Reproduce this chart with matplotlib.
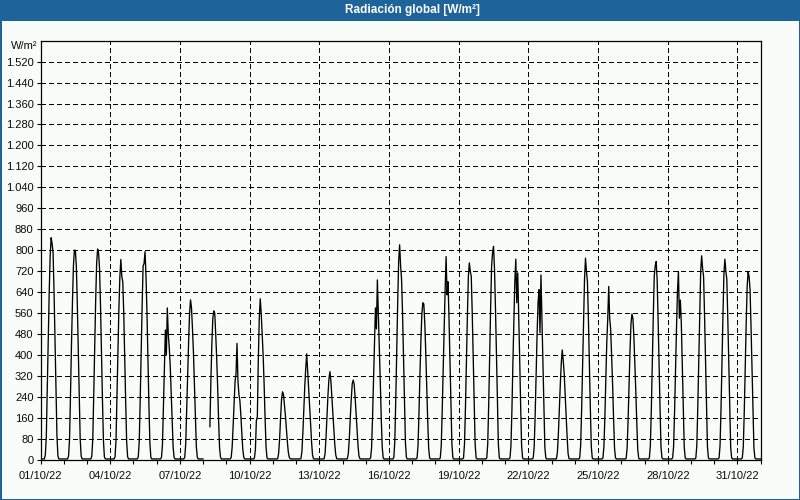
import numpy as np
import matplotlib
matplotlib.use("Agg")
import matplotlib.pyplot as plt
from matplotlib.ticker import MultipleLocator, FixedLocator, FuncFormatter
from matplotlib.patches import Rectangle

# ---------------- data ----------------
title = "Radiación global [W/m²]"
unit_label = "W/m²"
x_tick_labels = ["01/10/22", "04/10/22", "07/10/22", "10/10/22", "13/10/22", "16/10/22",
                 "19/10/22", "22/10/22", "25/10/22", "28/10/22", "31/10/22"]
x_tick_days = [0, 3, 6, 9, 12, 15, 18, 21, 24, 27, 30]
y_ticks = list(range(0, 1600, 80))

night_level = 4
hours = [5, 6, 7, 8, 9, 10, 11, 12, 13, 14, 15, 16, 17, 18]   # hourly readings per day
nan = float("nan")
oct01 = [20, 90, 270, 470, 640, 780, 848, 825, 790, 640, 450, 260, 90, 15]
oct02 = [15, 80, 250, 440, 600, 740, 800, 800, 740, 600, 420, 240, 80, 15]
oct03 = [15, 80, 250, 440, 610, 750, 805, 790, 730, 590, 410, 230, 75, 12]
oct04 = [12, 75, 240, 420, 580, 700, 765, 700, 680, 560, 390, 220, 70, 12]
oct05 = [12, 70, 230, 420, 590, 740, 750, 795, 700, 560, 380, 210, 65, 10]
oct06 = [10, 60, 200, 340, 496, 400, 580, 480, 430, 360, 260, 150, 50, 10]
oct07 = [10, 60, 190, 330, 450, 560, 611, 580, 500, 410, 290, 160, 50, 10]
oct08 = [nan, nan, 127, 300, 440, 540, 569, 560, 480, 390, 280, 150, 45, 10]
oct09 = [10, 50, 130, 220, 300, 330, 445, 300, 250, 225, 170, 100, 40, 10]
oct10 = [8, 40, 150, 165, 380, 540, 615, 560, 480, 400, 290, 160, 50, 8]
oct11 = [5, 25, 80, 160, 230, 260, 250, 210, 170, 120, 70, 30, 10, 5]
oct12 = [5, 30, 100, 190, 280, 350, 405, 340, 280, 210, 140, 70, 20, 5]
oct13 = [5, 25, 90, 170, 250, 310, 337, 300, 240, 180, 120, 60, 20, 5]
oct14 = [5, 25, 80, 160, 230, 290, 305, 290, 240, 180, 115, 55, 15, 5]
oct15 = [8, 45, 160, 300, 430, 580, 500, 687, 560, 430, 300, 160, 50, 8]
oct16 = [10, 70, 230, 420, 600, 760, 821, 740, 690, 560, 390, 220, 65, 10]
oct17 = [8, 55, 180, 330, 460, 560, 600, 595, 520, 410, 280, 150, 45, 8]
oct18 = [8, 55, 190, 350, 500, 650, 776, 630, 680, 540, 380, 210, 60, 8]
oct19 = [8, 60, 200, 380, 550, 700, 752, 720, 700, 560, 390, 215, 60, 8]
oct20 = [8, 60, 210, 400, 580, 740, 790, 815, 730, 580, 400, 220, 60, 8]
oct21 = [8, 55, 190, 370, 520, 680, 766, 600, 714, 560, 390, 210, 55, 8]
oct22 = [8, 50, 170, 330, 480, 600, 650, 485, 706, 540, 370, 200, 50, 8]
oct23 = [5, 30, 100, 200, 290, 370, 420, 380, 330, 250, 170, 90, 25, 5]
oct24 = [8, 55, 190, 360, 520, 690, 770, 720, 680, 540, 370, 200, 50, 8]
oct25 = [8, 50, 160, 310, 450, 540, 662, 540, 500, 400, 290, 160, 45, 8]
oct26 = [6, 45, 150, 290, 420, 520, 557, 540, 470, 370, 260, 140, 40, 6]
oct27 = [8, 55, 190, 370, 540, 700, 740, 757, 690, 540, 370, 200, 50, 8]
oct28 = [8, 50, 180, 340, 500, 640, 719, 541, 610, 520, 360, 190, 50, 8]
oct29 = [8, 55, 200, 380, 560, 720, 779, 730, 700, 550, 380, 200, 50, 8]
oct30 = [8, 55, 195, 375, 550, 710, 766, 720, 690, 540, 370, 195, 48, 8]
oct31 = [8, 50, 180, 350, 520, 660, 719, 700, 650, 510, 350, 180, 45, 8]

days = [oct01, oct02, oct03, oct04, oct05, oct06, oct07, oct08, oct09, oct10,
        oct11, oct12, oct13, oct14, oct15, oct16, oct17, oct18, oct19, oct20,
        oct21, oct22, oct23, oct24, oct25, oct26, oct27, oct28, oct29, oct30, oct31]

# ---------------- series assembly ----------------
xs, ys = [0.0], [night_level]
for d, vals in enumerate(days):
    xs.append(d + 4 / 24)
    ys.append(night_level if not np.isnan(vals[0]) else nan)
    for h, v in zip(hours, vals):
        xs.append(d + h / 24)
        ys.append(v)
    xs.append(d + 19 / 24); ys.append(night_level)
    xs.append(d + 23.9 / 24); ys.append(night_level)
xs.append(31.0); ys.append(night_level)

# ---------------- figure ----------------
W, H = 800, 500
fig = plt.figure(figsize=(8, 5), dpi=100)
bg = "#fafcfa"
blue = "#1e6399"
fig.patch.set_facecolor(bg)

fig.patches.append(Rectangle((0, 1 - 21 / H), 1, 21 / H, transform=fig.transFigure,
                             facecolor=blue, edgecolor="none", zorder=0))
fig.patches.append(Rectangle((0, 0), 1, 1, transform=fig.transFigure, fill=False,
                             edgecolor=blue, linewidth=2.2, zorder=5))

fig.text(412 / W, 1 - 10.5 / H, title, color="white", fontweight="bold",
         fontsize=8.5, family="Liberation Sans", ha="center", va="center")

left, right, top, bottom = 40.5, 760.7, 40.6, 460.0
ax = fig.add_axes([left / W, 1 - bottom / H, (right - left) / W, (bottom - top) / H])
ax.set_facecolor(bg)

ax.plot(xs, ys, color="black", linewidth=0.95, zorder=3)

ax.set_xlim(0, 31)
ax.set_ylim(0, 1600)

ax.xaxis.set_major_locator(FixedLocator(x_tick_days))
ax.set_xticklabels(x_tick_labels)
ax.xaxis.set_minor_locator(MultipleLocator(1))
ax.yaxis.set_major_locator(FixedLocator(y_ticks))
ax.yaxis.set_major_formatter(FuncFormatter(lambda v, p: f"{int(v):,}".replace(",", ".")))

for lab in ax.get_xticklabels() + ax.get_yticklabels():
    lab.set_family("Liberation Sans")
    lab.set_fontsize(8)
    lab.set_color("#0a0a0a")

ax.tick_params(axis="x", which="major", direction="out", length=3, width=0.8, pad=5)
ax.tick_params(axis="x", which="minor", direction="out", length=3, width=0.8)
ax.tick_params(axis="y", which="major", direction="out", length=3, width=0.8, pad=2)

ax.grid(True, which="major", axis="both", color="black", linewidth=0.75,
        linestyle=(0, (4, 3)), antialiased=False, zorder=1)
for s in ax.spines.values():
    s.set_linewidth(0.9)
    s.set_color("black")

fig.text(37 / W, 1 - 46 / H, unit_label, ha="right", va="center", fontsize=8,
         family="Liberation Sans", color="#0a0a0a")

fig.savefig("out.png", dpi=100, facecolor=fig.get_facecolor())
